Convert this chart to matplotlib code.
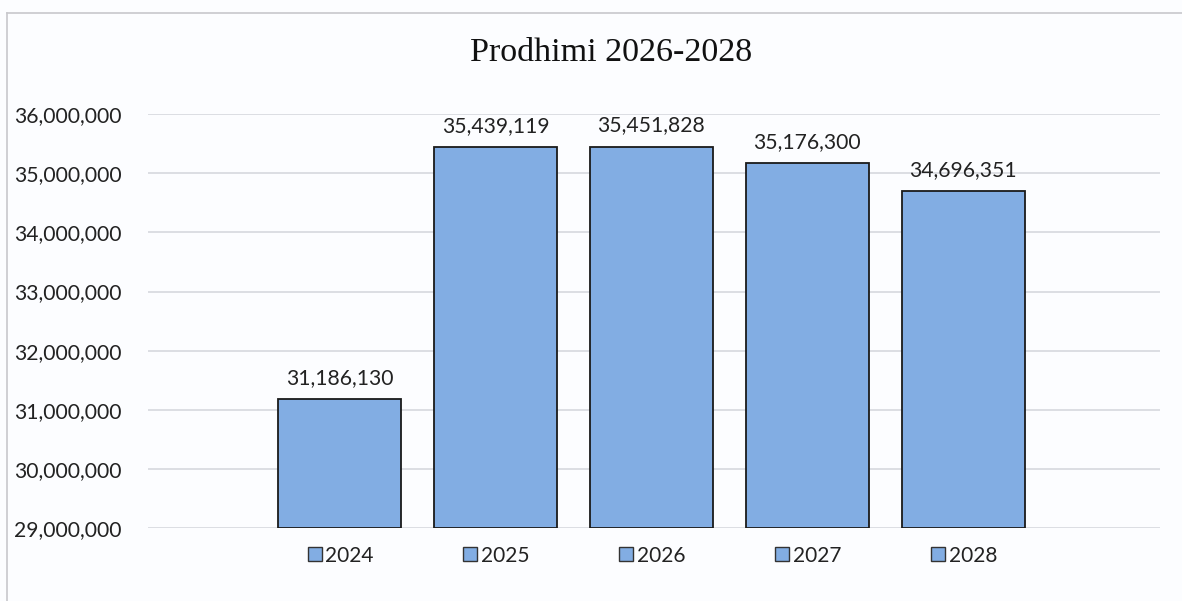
import matplotlib
matplotlib.use("Agg")
import matplotlib.pyplot as plt
from matplotlib.lines import Line2D
from matplotlib.transforms import ScaledTranslation

years = ["2024", "2025", "2026", "2027", "2028"]
values = [31186130, 35439119, 35451828, 35176300, 34696351]
yticks = [29000000, 30000000, 31000000, 32000000, 33000000, 34000000, 35000000, 36000000]
title = "Prodhimi 2026-2028"

bar_color = "#82ADE3"
edge_color = "#1a1a1a"
sans = ["Lato", "DejaVu Sans"]

fig = plt.figure(figsize=(11.82, 6.01), dpi=100, facecolor="#fcfdff")
ax = fig.add_axes([0.125, 0.1215, 0.856, 0.6885])
ax.set_facecolor("none")

x = list(range(len(years)))
ax.bar(x, [v - yticks[0] for v in values], bottom=yticks[0], width=0.79,
       color=bar_color, edgecolor=edge_color, linewidth=1.3, zorder=3)

ax.set_ylim(yticks[0], yticks[-1])
ax.set_xlim(-1.23, len(years) - 1 + 1.26)
ax.set_yticks(yticks)
ax.set_yticklabels([f"{t:,}" for t in yticks], fontsize=15.2, family=sans, color="#222222")
ax.yaxis.grid(True, color="#d6d8de", linewidth=1.2, zorder=0)
ax.tick_params(axis="y", length=0, pad=19)
ax.set_xticks([])
for s in ax.spines.values():
    s.set_visible(False)

for xi, v in zip(x, values):
    ax.annotate(f"{v:,}", (xi, v), xytext=(0, 8), textcoords="offset points",
                ha="center", va="bottom", fontsize=15.2, family=sans, color="#222222")

# legend-like labels under each bar
for xi, yr in zip(x, years):
    ax.annotate(yr, (xi, yticks[0]), xytext=(7, -20), textcoords="offset points",
                ha="center", va="center", fontsize=15, family=sans, color="#222222",
                annotation_clip=False)
    ln, = ax.plot([xi], [yticks[0]], marker="s", markersize=10, markerfacecolor=bar_color,
                  markeredgecolor="#333333", markeredgewidth=1.0, linestyle="none",
                  clip_on=False)
    ln.set_transform(ax.transData + ScaledTranslation(-25/100, -19/72, fig.dpi_scale_trans))

fig.text(0.517, 0.912, title, ha="center", va="center", fontsize=24.5,
         family=["Liberation Serif", "DejaVu Serif"], color="#111111")

# chart border (left and top)
fig.add_artist(Line2D([7/1182, 7/1182], [0, 1 - 13/601], transform=fig.transFigure,
                      color="#c8c8cc", linewidth=1.2))
fig.add_artist(Line2D([7/1182, 1], [1 - 13/601, 1 - 13/601], transform=fig.transFigure,
                      color="#c8c8cc", linewidth=1.2))

fig.savefig("out.png", dpi=100, facecolor=fig.get_facecolor())
